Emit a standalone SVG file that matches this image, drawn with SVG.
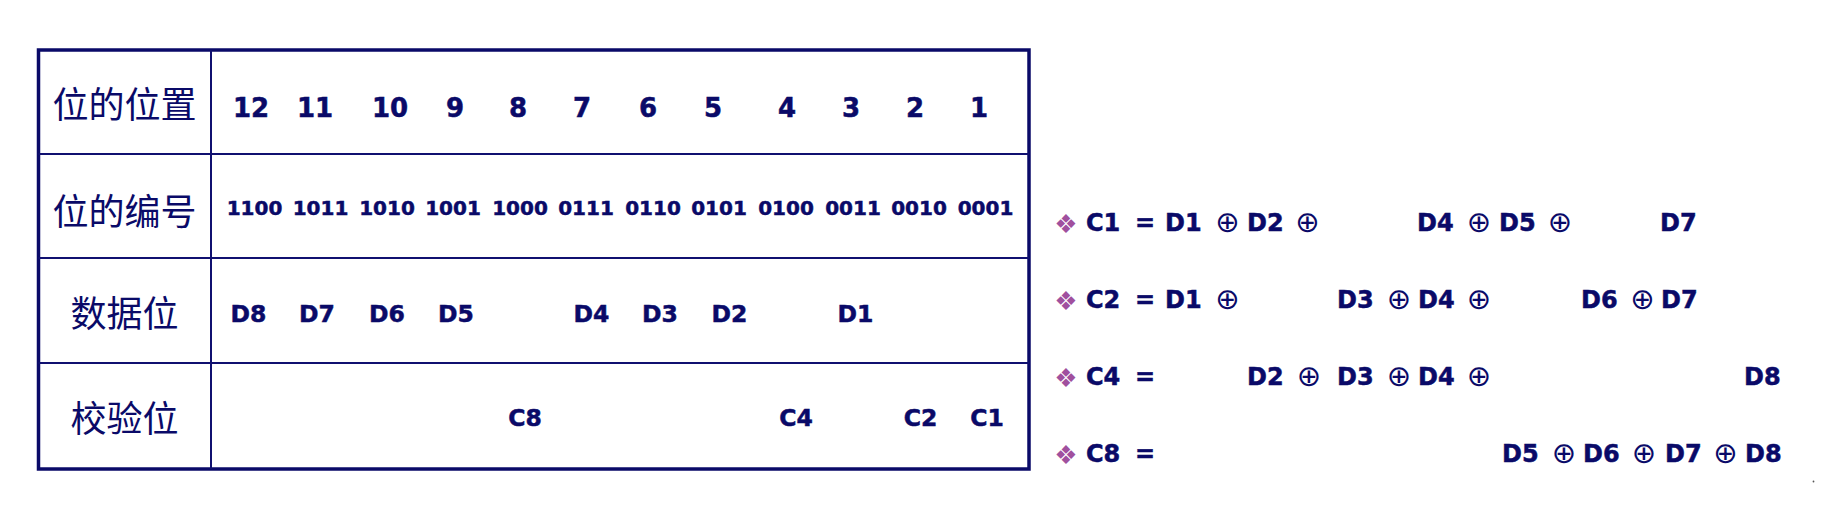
<svg xmlns="http://www.w3.org/2000/svg" width="1838" height="508" viewBox="0 0 1838 508">
<style>
.ln{stroke:#101070;stroke-width:2;fill:none}
.bd{stroke:#0a0a68;stroke-width:3.5;fill:none}
.cj{font-family:"Noto Sans CJK SC","Noto Sans",sans-serif;font-size:36px;fill:#0a0a68;text-anchor:middle}
.b{font-family:"DejaVu Sans","Liberation Sans",sans-serif;font-weight:bold;fill:#0a0a68;stroke:#0a0a68;stroke-width:0.5}
.n1{font-size:26px;text-anchor:middle}
.n2{font-size:20px;text-anchor:middle}
.n3{font-size:23.5px;text-anchor:middle}
.f{font-size:24px}
.x{font-family:"DejaVu Sans",sans-serif;font-size:29px;fill:#0a0a68;text-anchor:middle}
.bu{font-family:"DejaVu Sans",sans-serif;font-size:26px;fill:#a0509e;text-anchor:middle}
</style>
<rect width="1838" height="508" fill="#ffffff"/>
<g id="table">
<rect class="bd" x="38.5" y="50" width="990.5" height="419"/>
<line class="ln" x1="211" y1="50" x2="211" y2="469"/>
<line class="ln" x1="38.5" y1="154" x2="1029" y2="154"/>
<line class="ln" x1="38.5" y1="258" x2="1029" y2="258"/>
<line class="ln" x1="38.5" y1="363" x2="1029" y2="363"/>
</g>
<g id="row-position">
<text class="cj" x="124.5" y="118">位的位置</text>
<g class="b n1">
<text x="251" y="117">12</text><text x="315" y="117">11</text><text x="390" y="117">10</text><text x="455" y="117">9</text><text x="518" y="117">8</text><text x="582" y="117">7</text><text x="648" y="117">6</text><text x="713" y="117">5</text><text x="787" y="117">4</text><text x="851" y="117">3</text><text x="915" y="117">2</text><text x="979" y="117">1</text>
</g>
</g>
<g id="row-number">
<text class="cj" x="124.5" y="225">位的编号</text>
<g class="b n2">
<text x="254.5" y="215">1100</text><text x="320.5" y="215">1011</text><text x="387" y="215">1010</text><text x="453" y="215">1001</text><text x="520" y="215">1000</text><text x="586" y="215">0111</text><text x="653" y="215">0110</text><text x="719" y="215">0101</text><text x="786" y="215">0100</text><text x="853" y="215">0011</text><text x="919" y="215">0010</text><text x="985.5" y="215">0001</text>
</g>
</g>
<g id="row-data">
<text class="cj" x="124.5" y="327">数据位</text>
<g class="b n3">
<text x="248.5" y="322">D8</text><text x="317" y="322">D7</text><text x="387" y="322">D6</text><text x="456" y="322">D5</text><text x="591.5" y="322">D4</text><text x="660" y="322">D3</text><text x="729.5" y="322">D2</text><text x="855.5" y="322">D1</text>
</g>
</g>
<g id="row-check">
<text class="cj" x="124.5" y="432">校验位</text>
<g class="b n3">
<text x="525" y="426">C8</text><text x="796" y="426">C4</text><text x="920.5" y="426">C2</text><text x="987" y="426">C1</text>
</g>
</g>
<g id="eq-c1">
<text class="bu" x="1066" y="233">❖</text>
<g class="b f"><text x="1086" y="231">C1</text><text x="1135" y="231">=</text><text x="1165" y="231">D1</text><text x="1247" y="231">D2</text><text x="1417" y="231">D4</text><text x="1499" y="231">D5</text><text x="1660" y="231">D7</text></g>
<g class="x"><text x="1227.5" y="232">⊕</text><text x="1307.5" y="232">⊕</text><text x="1479" y="232">⊕</text><text x="1560" y="232">⊕</text></g>
</g>
<g id="eq-c2">
<text class="bu" x="1066" y="310">❖</text>
<g class="b f"><text x="1086" y="308">C2</text><text x="1135" y="308">=</text><text x="1165" y="308">D1</text><text x="1337" y="308">D3</text><text x="1418" y="308">D4</text><text x="1581" y="308">D6</text><text x="1661" y="308">D7</text></g>
<g class="x"><text x="1227.5" y="309">⊕</text><text x="1399" y="309">⊕</text><text x="1479" y="309">⊕</text><text x="1642.5" y="309">⊕</text></g>
</g>
<g id="eq-c4">
<text class="bu" x="1066" y="387">❖</text>
<g class="b f"><text x="1086" y="385">C4</text><text x="1135" y="385">=</text><text x="1247" y="385">D2</text><text x="1337" y="385">D3</text><text x="1418" y="385">D4</text><text x="1744" y="385">D8</text></g>
<g class="x"><text x="1309" y="386">⊕</text><text x="1399" y="386">⊕</text><text x="1479" y="386">⊕</text></g>
</g>
<g id="eq-c8">
<text class="bu" x="1066" y="464">❖</text>
<g class="b f"><text x="1086" y="462">C8</text><text x="1135" y="462">=</text><text x="1502" y="462">D5</text><text x="1583" y="462">D6</text><text x="1665" y="462">D7</text><text x="1745" y="462">D8</text></g>
<g class="x"><text x="1564" y="463">⊕</text><text x="1644" y="463">⊕</text><text x="1725.5" y="463">⊕</text></g>
</g>
<circle cx="1813.5" cy="481.5" r="0.9" fill="#555"/>
</svg>
